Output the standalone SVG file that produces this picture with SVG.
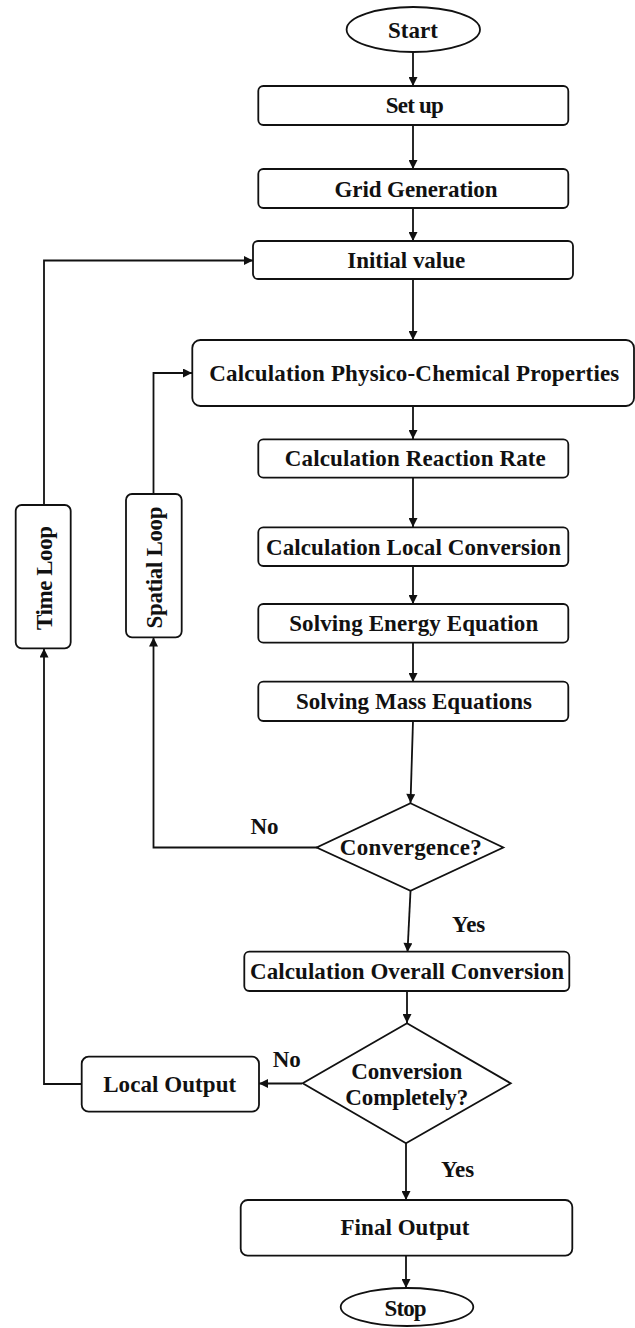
<svg xmlns="http://www.w3.org/2000/svg" width="635" height="1328" viewBox="0 0 635 1328">
<style>
.box{fill:#fff;stroke:#111;stroke-width:1.8}
.t{font-family:"Liberation Serif","Times New Roman",serif;font-weight:bold;font-size:23px;fill:#111;text-anchor:middle}
.c{fill:none;stroke:#111;stroke-width:1.8}
</style>
<defs>
<marker id="ah" viewBox="0 0 10 10" refX="10" refY="5" markerWidth="10" markerHeight="9" markerUnits="userSpaceOnUse" orient="auto">
<path d="M0,0 L10,5 L0,10 z" fill="#111"/>
</marker>
</defs>
<rect width="635" height="1328" fill="#fff"/>
<g id="connectors">
<path class="c" d="M413,52 V86" marker-end="url(#ah)"/>
<path class="c" d="M413,125 V169" marker-end="url(#ah)"/>
<path class="c" d="M413,208 V241" marker-end="url(#ah)"/>
<path class="c" d="M413,279 V340" marker-end="url(#ah)"/>
<path class="c" d="M413,406 V439" marker-end="url(#ah)"/>
<path class="c" d="M413,478 V527" marker-end="url(#ah)"/>
<path class="c" d="M413,566 V604" marker-end="url(#ah)"/>
<path class="c" d="M413,643 V682" marker-end="url(#ah)"/>
<path class="c" d="M413,721 L410.5,803" marker-end="url(#ah)"/>
<path class="c" d="M317,847.5 H153.5 V637.5" marker-end="url(#ah)"/>
<path class="c" d="M153.5,494 V373 H192" marker-end="url(#ah)"/>
<path class="c" d="M410.5,891 L407.5,952" marker-end="url(#ah)"/>
<path class="c" d="M407,991 V1023" marker-end="url(#ah)"/>
<path class="c" d="M302,1083.5 H259" marker-end="url(#ah)"/>
<path class="c" d="M82,1084 H44 V648.5" marker-end="url(#ah)"/>
<path class="c" d="M44,505 V260.5 H253" marker-end="url(#ah)"/>
<path class="c" d="M406,1143 V1200" marker-end="url(#ah)"/>
<path class="c" d="M406,1256 V1288" marker-end="url(#ah)"/>
</g>
<g id="start">
<ellipse class="box" cx="413.3" cy="29.5" rx="66.7" ry="22.5"/>
<text class="t" x="413" y="37.5">Start</text>
</g>
<g id="setup">
<rect class="box" x="258.3" y="86" width="310" height="39" rx="5"/>
<text class="t" x="414.8" y="113" textLength="58" lengthAdjust="spacing">Set up</text>
</g>
<g id="grid">
<rect class="box" x="258.3" y="169" width="310" height="39" rx="5"/>
<text class="t" x="416" y="196.5" textLength="163" lengthAdjust="spacing">Grid Generation</text>
</g>
<g id="initial">
<rect class="box" x="253" y="241" width="320" height="38" rx="5"/>
<text class="t" x="406.2" y="268" textLength="118" lengthAdjust="spacing">Initial value</text>
</g>
<g id="physico">
<rect class="box" x="192.3" y="340" width="441.7" height="66" rx="8"/>
<text class="t" x="414.3" y="381" textLength="410" lengthAdjust="spacing">Calculation Physico-Chemical Properties</text>
</g>
<g id="reaction">
<rect class="box" x="258.3" y="439.3" width="310" height="38.4" rx="5"/>
<text class="t" x="415.3" y="466" textLength="261" lengthAdjust="spacing">Calculation Reaction Rate</text>
</g>
<g id="localconv">
<rect class="box" x="258.3" y="527.3" width="310" height="38.7" rx="5"/>
<text class="t" x="413.5" y="554.5" textLength="295" lengthAdjust="spacing">Calculation Local Conversion</text>
</g>
<g id="energy">
<rect class="box" x="258.3" y="604" width="310" height="38.7" rx="5"/>
<text class="t" x="413.7" y="631" textLength="249" lengthAdjust="spacing">Solving Energy Equation</text>
</g>
<g id="mass">
<rect class="box" x="258.3" y="681.7" width="310" height="39.3" rx="5"/>
<text class="t" x="414" y="709" textLength="236" lengthAdjust="spacing">Solving Mass Equations</text>
</g>
<g id="convergence">
<polygon class="box" points="410.5,803.3 503.3,847.5 410.5,890.7 316.7,847.5"/>
<text class="t" x="410.8" y="855" textLength="142" lengthAdjust="spacing">Convergence?</text>
</g>
<g id="overall">
<rect class="box" x="244.3" y="951.7" width="325" height="39.3" rx="5"/>
<text class="t" x="407" y="979" textLength="314" lengthAdjust="spacing">Calculation Overall Conversion</text>
</g>
<g id="completely">
<polygon class="box" points="407,1023.3 510.7,1083.3 406,1143.3 302.7,1083.3"/>
<text class="t" x="406.7" y="1079" textLength="111" lengthAdjust="spacing">Conversion</text>
<text class="t" x="406.7" y="1105" textLength="123" lengthAdjust="spacing">Completely?</text>
</g>
<g id="localoutput">
<rect class="box" x="81.7" y="1056.7" width="177.3" height="55" rx="7"/>
<text class="t" x="169.7" y="1092" textLength="133" lengthAdjust="spacing">Local Output</text>
</g>
<g id="finaloutput">
<rect class="box" x="240.7" y="1200" width="331.6" height="55.7" rx="7"/>
<text class="t" x="405" y="1235" textLength="129" lengthAdjust="spacing">Final Output</text>
</g>
<g id="stop">
<ellipse class="box" cx="407" cy="1307" rx="66.3" ry="19"/>
<text class="t" x="405.5" y="1316" textLength="42" lengthAdjust="spacing">Stop</text>
</g>
<g id="timeloop">
<rect class="box" x="15.7" y="505" width="55" height="143.3" rx="6"/>
<text class="t" transform="translate(51.5,578) rotate(-90)" x="0" y="0" textLength="104" lengthAdjust="spacing">Time Loop</text>
</g>
<g id="spatialloop">
<rect class="box" x="126" y="494" width="55.7" height="143.3" rx="6"/>
<text class="t" transform="translate(162,567.5) rotate(-90)" x="0" y="0" textLength="122" lengthAdjust="spacing">Spatial Loop</text>
</g>
<g id="labels">
<text class="t" x="264.5" y="834.3">No</text>
<text class="t" x="468.7" y="931.7">Yes</text>
<text class="t" x="286.7" y="1066.7">No</text>
<text class="t" x="457.5" y="1177">Yes</text>
</g>
</svg>
